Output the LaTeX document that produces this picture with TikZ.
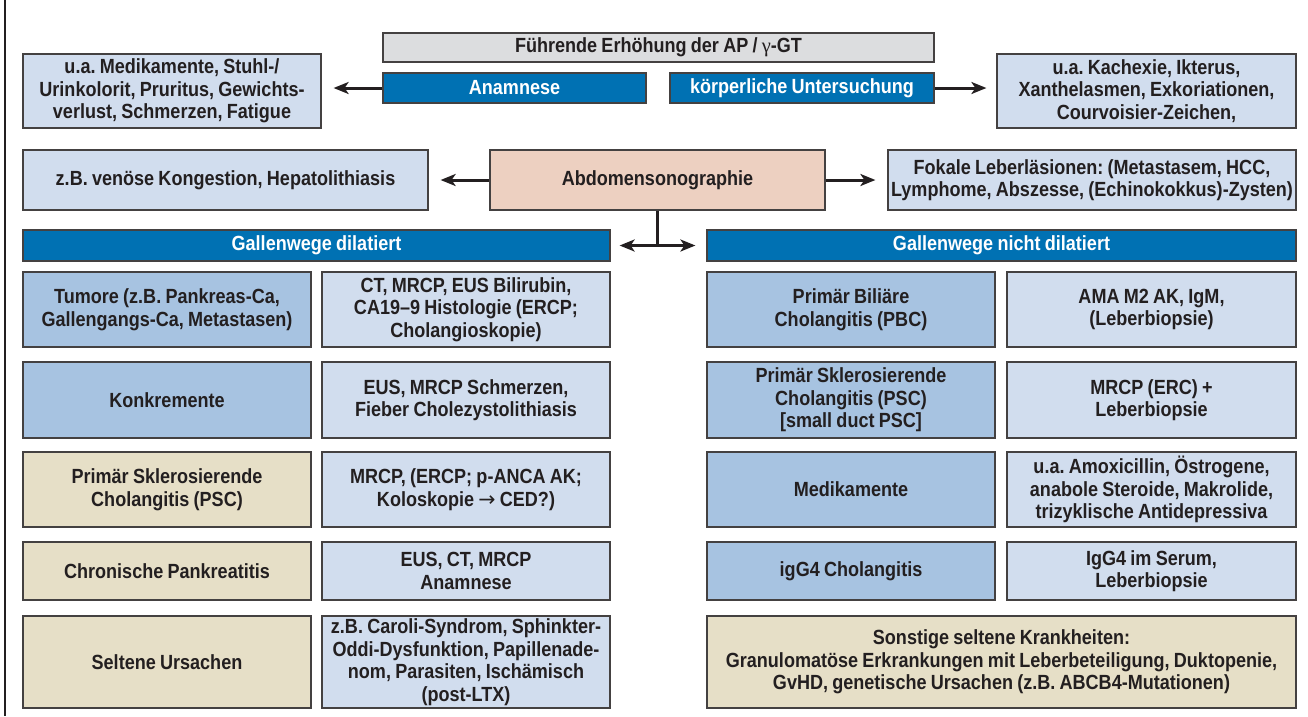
\documentclass[tikz,border=0pt]{standalone}
\usepackage{fontspec}
\setmainfont{Liberation Sans}[FakeStretch=0.88, WordSpace=0.85]
\newfontfamily\greekfont{Liberation Serif}
\newfontfamily\arrowfont{DejaVu Sans}
\usetikzlibrary{arrows.meta}
\definecolor{darkblue}{HTML}{0071B3}
\definecolor{midblue}{HTML}{A7C3E1}
\definecolor{lightblue}{HTML}{D1DDEE}
\definecolor{tan}{HTML}{E6DFC7}
\definecolor{headgray}{HTML}{DCDDDF}
\definecolor{peach}{HTML}{EDD0C1}
\definecolor{ink}{HTML}{231F20}
\tikzstyle{box}=[draw=ink!85, line width=1.2pt, inner sep=0pt, align=center,
  text=ink, font=\fontsize{20.5}{22.5}\selectfont\bfseries\frenchspacing]
\tikzstyle{blue box}=[box, fill=darkblue, text=white]
\tikzstyle{light box}=[box, fill=lightblue]
\tikzstyle{mid box}=[box, fill=midblue]
\tikzstyle{tan box}=[box, fill=tan]
\tikzstyle{arrow}=[draw=ink, line width=3pt, -{Stealth[length=15pt, width=12pt, inset=4pt]}]

\begin{document}
\begin{tikzpicture}[x=1pt, y=-1pt]
  \useasboundingbox (0,0) rectangle (1308,716);
  \draw[ink, line width=2pt] (5,0) -- (5,716);

  % top part
  \node[box, fill=headgray, minimum width=551, minimum height=29] (head) at (658.5,47.5)
    {Führende Erhöhung der AP / {\greekfont\mdseries γ}-GT};
  \node[blue box, minimum width=263, minimum height=30] (anam) at (514.5,88) {Anamnese};
  \node[blue box, minimum width=264, minimum height=30] (koerp) at (802,88) {körperliche Untersuchung};
  \node[light box, minimum width=298, minimum height=74] (anamres) at (172,91)
    {u.a. Medikamente, Stuhl-/\\Urinkolorit, Pruritus, Gewichts-\\verlust, Schmerzen, Fatigue};
  \node[light box, minimum width=299, minimum height=74] (koerpres) at (1146.5,91)
    {u.a. Kachexie, Ikterus,\\Xanthelasmen, Exkoriationen,\\Courvoisier-Zeichen,};

  \node[box, fill=peach, minimum width=335, minimum height=60] (sono) at (657.5,180) {Abdomensonographie};
  \node[light box, minimum width=405, minimum height=60] (sonol) at (225.5,180)
    {z.B. venöse Kongestion, Hepatolithiasis};
  \node[light box, minimum width=408, minimum height=60] (sonor) at (1092,180)
    {Fokale Leberläsionen: (Metastasem, HCC,\\Lymphome, Abszesse, (Echinokokkus)-Zysten)};

  \node[blue box, minimum width=587, minimum height=31] (barL) at (316.5,245.5) {Gallenwege dilatiert};
  \node[blue box, minimum width=589, minimum height=31] (barR) at (1001.5,245.5) {Gallenwege nicht dilatiert};

  % Gallenwege dilatiert
  \node[mid box, minimum width=288, minimum height=75] (tumor) at (167,309.5)
    {Tumore (z.B. Pankreas-Ca,\\Gallengangs-Ca, Metastasen)};
  \node[light box, minimum width=288, minimum height=75] (tumordx) at (466,309.5)
    {CT, MRCP, EUS Bilirubin,\\CA19–9 Histologie (ERCP;\\Cholangioskopie)};
  \node[mid box, minimum width=288, minimum height=76] (konkr) at (167,400) {Konkremente};
  \node[light box, minimum width=288, minimum height=76] (konkrdx) at (466,400)
    {EUS, MRCP Schmerzen,\\Fieber Cholezystolithiasis};
  \node[tan box, minimum width=288, minimum height=75] (pscL) at (167,489.5)
    {Primär Sklerosierende\\Cholangitis (PSC)};
  \node[light box, minimum width=288, minimum height=75] (pscLdx) at (466,489.5)
    {MRCP, (ERCP; p-ANCA AK;\\Koloskopie {\arrowfont\mdseries →} CED?)};
  \node[tan box, minimum width=288, minimum height=58] (pankr) at (167,571) {Chronische Pankreatitis};
  \node[light box, minimum width=288, minimum height=58] (pankrdx) at (466,571)
    {EUS, CT, MRCP\\Anamnese};
  \node[tan box, minimum width=288, minimum height=92] (selten) at (167,662) {Seltene Ursachen};
  \node[light box, minimum width=288, minimum height=92] (seltendx) at (466,662)
    {z.B. Caroli-Syndrom, Sphinkter-\\Oddi-Dysfunktion, Papillenade-\\nom, Parasiten, Ischämisch\\(post-LTX)};

  % Gallenwege nicht dilatiert
  \node[mid box, minimum width=288, minimum height=75] (pbc) at (851,309.5)
    {Primär Biliäre\\Cholangitis (PBC)};
  \node[light box, minimum width=289, minimum height=75] (pbcdx) at (1151.5,309.5)
    {AMA M2 AK, IgM,\\(Leberbiopsie)};
  \node[mid box, minimum width=288, minimum height=76] (pscR) at (851,400)
    {Primär Sklerosierende\\Cholangitis (PSC)\\{[small duct PSC]}};
  \node[light box, minimum width=289, minimum height=76] (pscRdx) at (1151.5,400)
    {MRCP (ERC) +\\Leberbiopsie};
  \node[mid box, minimum width=288, minimum height=75] (medi) at (851,489.5) {Medikamente};
  \node[light box, minimum width=289, minimum height=75] (medidx) at (1151.5,489.5)
    {u.a. Amoxicillin, Östrogene,\\anabole Steroide, Makrolide,\\trizyklische Antidepressiva};
  \node[mid box, minimum width=288, minimum height=58] (igg) at (851,571) {igG4 Cholangitis};
  \node[light box, minimum width=289, minimum height=58] (iggdx) at (1151.5,571)
    {IgG4 im Serum,\\Leberbiopsie};
  \node[tan box, minimum width=589, minimum height=92] (sonst) at (1001.5,662)
    {Sonstige seltene Krankheiten:\\Granulomatöse Erkrankungen mit Leberbeteiligung, Duktopenie,\\GvHD, genetische Ursachen (z.B. ABCB4-Mutationen)};

  % arrows
  \draw[arrow, shorten >=12pt] (anam.west) -- (anam.west -| anamres.east);
  \draw[arrow, shorten >=10pt] (koerp.east) -- (koerp.east -| koerpres.west);
  \draw[arrow, shorten >=12pt] (sono.west) -- (sonol.east);
  \draw[arrow, shorten >=12pt] (sono.east) -- (sonor.west);
  \draw[arrow, shorten >=9pt] (sono.south) |- (barL.east);
  \draw[arrow, shorten >=11pt] (sono.south) |- (barR.west);
\end{tikzpicture}
\end{document}
